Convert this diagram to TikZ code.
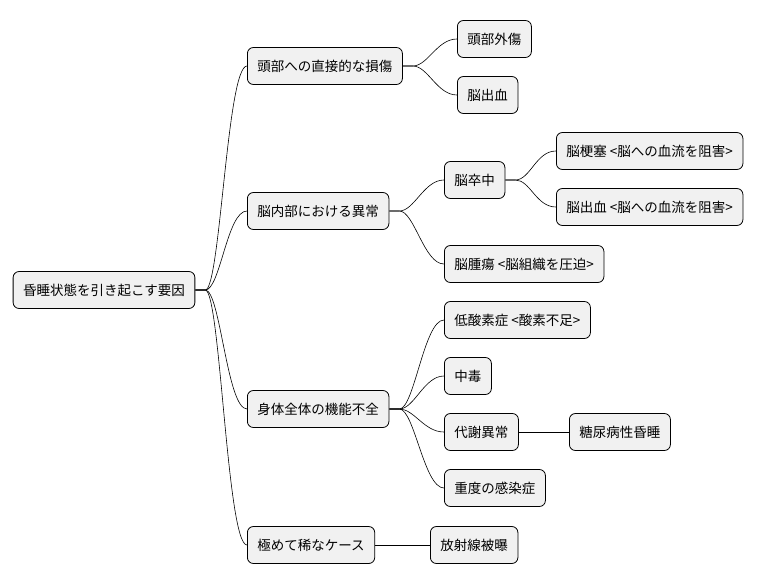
\documentclass[tikz,border=0pt]{standalone}
\usepackage{fontspec}
\setmainfont{Noto Sans CJK JP}
\begin{document}
\begin{tikzpicture}[x=1pt,y=-1pt,
  box/.style={draw=black,line width=0.8pt,fill={rgb,255:red,241;green,241;blue,241},rounded corners=6pt,minimum height=37pt,inner xsep=10pt,font=\fontsize{13.5}{16}\selectfont},
  edge/.style={line width=0.6pt}]
\useasboundingbox (0,0) rectangle (768,583);
\node[box] (r) at (104,290) {昏睡状態を引き起こす要因};
\node[box,anchor=west] (a) at (247,66) {頭部への直接的な損傷};
\node[box,anchor=west] (a1) at (457,39) {頭部外傷};
\node[box,anchor=west] (a2) at (457,95) {脳出血};
\node[box,anchor=west] (b) at (247,211) {脳内部における異常};
\node[box,anchor=west] (b1) at (444,180) {脳卒中};
\node[box,anchor=west] (b11) at (556,151) {脳梗塞 <脳への血流を阻害>};
\node[box,anchor=west] (b12) at (556,207) {脳出血 <脳への血流を阻害>};
\node[box,anchor=west] (b2) at (444,264) {脳腫瘍 <脳組織を圧迫>};
\node[box,anchor=west] (c) at (247,409) {身体全体の機能不全};
\node[box,anchor=west] (c1) at (444,320) {低酸素症 <酸素不足>};
\node[box,anchor=west] (c2) at (444,376) {中毒};
\node[box,anchor=west] (c3) at (444,432) {代謝異常};
\node[box,anchor=west] (c31) at (569,432) {糖尿病性昏睡};
\node[box,anchor=west] (c4) at (444,488) {重度の感染症};
\node[box,anchor=west] (d) at (247,545) {極めて稀なケース};
\node[box,anchor=west] (d1) at (430,545) {放射線被曝};
\foreach \p/\c in {r/a,r/b,r/c,r/d,a/a1,a/a2,b/b1,b/b2,b1/b11,b1/b12,c/c1,c/c2,c/c3,c/c4}{
  \draw[edge] (\p.east) -- ++(10,0) .. controls +(15,0) and +(-20,0) .. (\c.west);
}
\draw[edge] (c3) -- (c31);
\draw[edge] (d) -- (d1);
\end{tikzpicture}
\end{document}
